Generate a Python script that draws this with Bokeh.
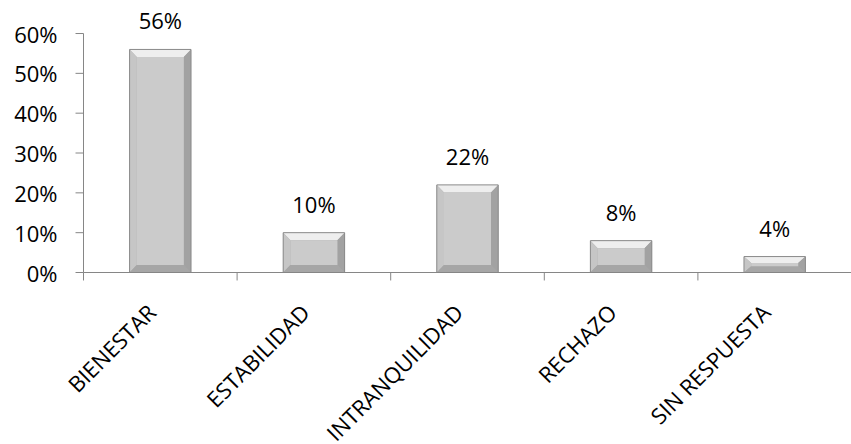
import math
from bokeh.plotting import figure
from bokeh.models import Range1d, ColumnDataSource
from bokeh.embed import file_html
from bokeh.resources import INLINE
from bokeh.core.properties import value

categories = ["BIENESTAR", "ESTABILIDAD", "INTRANQUILIDAD", "RECHAZO", "SIN RESPUESTA"]
values = [0.56, 0.10, 0.22, 0.08, 0.04]
labels = ["56%", "10%", "22%", "8%", "4%"]
y_ticks = [0.0, 0.1, 0.2, 0.3, 0.4, 0.5, 0.6]
y_tick_labels = ["0%", "10%", "20%", "30%", "40%", "50%", "60%"]

FONT = "Open Sans"
FS = "22px"
AXIS_C = "#868686"

n = len(categories)
centers = [i + 0.5 for i in range(n)]
bounds = list(range(n + 1))

p = figure(width=851, height=444, output_backend="svg", toolbar_location=None,
           x_range=Range1d(-0.5404, 5.0), y_range=Range1d(-0.4318, 0.6829),
           min_border_left=0, min_border_right=0, min_border_top=0, min_border_bottom=0)
p.outline_line_color = None
p.xgrid.visible = False
p.ygrid.visible = False
p.xaxis.visible = False
p.yaxis.visible = False
p.background_fill_color = "white"
p.border_fill_color = "white"

hw = 0.2
bx = 0.047
by = 0.019

# base bar
p.quad(left=[c - hw for c in centers], right=[c + hw for c in centers],
       bottom=[0] * n, top=values, fill_color="#a8a8a8", line_color=None)

top_xs, top_ys, l_xs, l_ys, r_xs, r_ys, b_xs, b_ys = [], [], [], [], [], [], [], []
face_l, face_r, face_b, face_t = [], [], [], []
for c, v in zip(centers, values):
    d = min(by, v / 2.5)
    L, R = c - hw, c + hw
    top_xs.append([L, R, R - bx, L + bx]); top_ys.append([v, v, v - d, v - d])
    l_xs.append([L, L + bx, L + bx, L]); l_ys.append([0, d, v - d, v])
    r_xs.append([R, R - bx, R - bx, R]); r_ys.append([0, d, v - d, v])
    b_xs.append([L, R, R - bx, L + bx]); b_ys.append([0, 0, d, d])
    face_l.append(L + bx); face_r.append(R - bx); face_b.append(d); face_t.append(v - d)

p.patches(top_xs, top_ys, fill_color="#eeeeee", line_color=None)
p.patches(l_xs, l_ys, fill_color="#c6c6c6", line_color=None)
p.patches(r_xs, r_ys, fill_color="#a2a2a2", line_color=None)
p.patches(b_xs, b_ys, fill_color="#a6a6a6", line_color=None)
p.quad(left=face_l, right=face_r, bottom=face_b, top=face_t,
       fill_color="#cbcbcb", line_color=None)
p.quad(left=[c - hw for c in centers], right=[c + hw for c in centers],
       bottom=[0] * n, top=values, fill_color=None, line_color="#8a8a8a", line_width=1)

# value labels
src = ColumnDataSource(dict(x=centers, y=values, t=labels))
p.text(x="x", y="y", text="t", source=src, text_align="center", text_baseline="bottom",
       y_offset=-14, text_font=value(FONT), text_font_size=FS, text_color="black")

# x axis line and tick marks between categories
p.segment(x0=[0], y0=[0], x1=[n], y1=[0], line_color=AXIS_C, line_width=1)
p.segment(x0=bounds, y0=[0] * len(bounds), x1=bounds, y1=[-0.02] * len(bounds),
          line_color=AXIS_C, line_width=1)

# y axis line, ticks and labels
p.segment(x0=[0], y0=[y_ticks[0]], x1=[0], y1=[y_ticks[-1]], line_color=AXIS_C, line_width=1)
p.segment(x0=[0] * len(y_ticks), y0=y_ticks, x1=[-0.052] * len(y_ticks), y1=y_ticks,
          line_color=AXIS_C, line_width=1)
ysrc = ColumnDataSource(dict(x=[0] * len(y_ticks), y=y_ticks, t=y_tick_labels))
p.text(x="x", y="y", text="t", source=ysrc, text_align="right", text_baseline="middle",
       x_offset=-26, text_font=value(FONT), text_font_size=FS, text_color="black")

# rotated category labels
csrc = ColumnDataSource(dict(x=centers, y=[0] * n, t=categories))
p.text(x="x", y="y", text="t", source=csrc, angle=math.pi / 4,
       text_align="right", text_baseline="top", x_offset=-19.7, y_offset=24.7,
       text_font=value(FONT), text_font_size=FS, text_color="black")

open("out.html", "w").write(file_html(p, INLINE))
